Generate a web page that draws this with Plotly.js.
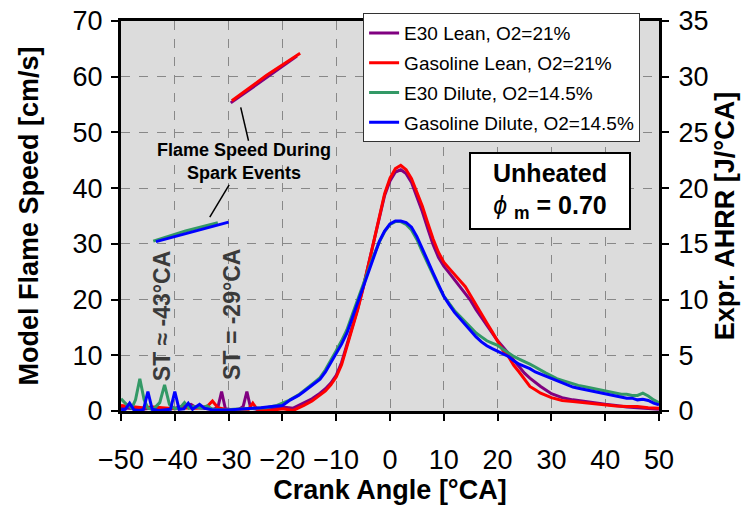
<!DOCTYPE html>
<html>
<head>
<meta charset="utf-8">
<script src="https://cdn.plot.ly/plotly-3.0.1.min.js"></script>
<style>html,body{margin:0;padding:0;background:#fff;}#chart{width:744px;height:509px;}</style>
</head>
<body>
<div id="chart"></div>
<script>
// ---- Series names ----
const nameEL = "E30 Lean, O2=21%";
const nameGL = "Gasoline Lean, O2=21%";
const nameED = "E30 Dilute, O2=14.5%";
const nameGD = "Gasoline Dilute, O2=14.5%";

// ---- Experimental AHRR [J/°CA] vs crank angle [°CA] (right axis) ----
const xGL = [-50,-48,-46,-44,-42,-40,-38,-36,-34,-33,-32,-30,-28,-26.3,-25.5,-24.7,-22,-20,-18,-17,-16,-14.5,-13,-12,-11,
  -10,-9,-8,-7,-6,-5,-4,-3,-2,-1,0,1,2,3,4,5,6,7,8,9,10,11,12,13,14,15,16,17,18,19,20,21,22,23,24,25,26,27,28,
  30,32,34,36,38,40,42,44,46,48,50];
const ahrrGL = [0.5,0.4,0.3,0.35,0.25,0.2,0.3,0.25,0.4,0.9,0.3,0.1,0.15,0.15,0.7,0.15,0.05,0.2,0.05,0.25,0.5,0.9,1.4,1.8,2.35,
  3.05,4.15,5.75,7.4,9.1,11,13.1,15.4,17.5,19.5,20.9,21.75,22.05,21.65,20.85,19.6,18.4,16.9,15.45,14.25,
  13.35,12.8,12.25,11.75,11.15,10.35,9.5,8.7,7.9,7.1,6.25,5.45,4.9,4.1,3.5,2.8,2.2,1.9,1.6,
  1.2,0.95,0.85,0.75,0.65,0.5,0.45,0.4,0.4,0.3,0.25];

const xEL = [-50,-48,-46,-44,-42,-40,-38,-37,-36,-34,-33,-32,-31.3,-30.6,-29,-28,-27.3,-26.6,-25.9,-24,-22,-20,-18,-17,-16,-14.5,-13,-12,-11,
  -10,-9,-8,-7,-6,-5,-4,-3,-2,-1,0,1,2,3,4,5,6,7,8,9,10,11,12,13,14,15,16,17,18,19,20,21,22,23,24,25,26,27,28,
  30,32,34,36,38,40,42,44,46,48,50];
const ahrrEL = [0.3,0.25,0.15,0.3,0.2,0.25,0.45,0.6,0.3,0.2,0.15,0.3,1.75,0.2,0.1,0.15,0.4,1.75,0.25,0.1,0.2,0.35,0.25,0.5,0.7,1.1,1.6,2.0,2.5,
  3.2,4.35,5.9,7.5,9.2,11.1,13.15,15.3,17.4,19.35,20.65,21.45,21.65,21.3,20.5,19.25,17.9,16.4,14.95,13.8,
  13.0,12.4,11.8,11.2,10.6,9.9,9.1,8.4,7.6,6.9,6.3,5.75,5.15,4.5,3.9,3.4,2.95,2.55,2.2,
  1.55,1.2,1.0,0.85,0.7,0.6,0.5,0.35,0.3,0.25,0.15];

const xGD = [-50,-49.2,-48.4,-47.6,-46.6,-45.8,-45,-44.2,-43,-40.8,-40,-39.2,-38.3,-37.5,-36.7,-35.4,-34.5,-33,-30,-28,-26,-24,-22,-20,-18.5,-17,-16,-15,-14,-13,-12,-11,
  -10,-9,-8,-7,-6,-5,-4,-3,-2,-1,0,1,2,3,4,5,6,7,8,9,10,11,12,13,14,15,16,17,18,19,20,21,22,23,24,25,26,27,28,29,
  30,31,32,33,34,35,36,37,38,39,40,41,42,43,44,45,46,47,48,49,50];
const ahrrGD = [0.1,0.15,0.7,0.1,0.05,0.15,1.75,0.15,0.05,0.15,1.75,0.15,0.2,0.7,0.15,0.6,0.25,0.1,0.1,0.15,0.25,0.3,0.4,0.5,1.0,1.4,1.75,2.1,2.5,2.85,3.5,4.3,
  5.15,6.0,7.0,8.4,9.8,11.15,12.55,14.0,15.2,16.15,16.8,17.05,17.05,16.9,16.5,15.65,14.5,13.5,12.4,11.3,
  10.3,9.55,8.85,8.3,7.75,7.15,6.65,6.2,5.85,5.6,5.35,5.1,4.9,4.5,4.2,4.0,3.8,3.5,3.3,3.1,
  2.9,2.7,2.5,2.35,2.15,2.05,1.95,1.85,1.75,1.7,1.55,1.45,1.4,1.3,1.15,1.15,1.0,1.05,0.95,0.7,0.55];

const xED = [-50,-49,-48,-47.3,-46.5,-45.7,-45,-44,-42.8,-41.9,-41,-40,-39,-38.2,-37.4,-36.5,-35,-34,-33,-31,-29,-27,-25,-23,-21,-19,-17,-16,-15,-14,-13,-12,-11,
  -10,-9,-8,-7,-6,-5,-4,-3,-2,-1,0,1,2,3,4,5,6,7,8,9,10,11,12,13,14,15,16,17,18,19,20,21,22,23,24,25,26,27,28,29,
  30,31,32,33,34,35,36,37,38,39,40,41,42,43,44,45,46,47,48,49,50];
const ahrrED = [1.1,0.6,0.25,1.0,2.9,1.0,0.25,0.15,0.75,2.35,0.6,0.2,0.3,0.75,0.25,0.4,0.25,0.45,0.15,0.1,0.15,0.2,0.25,0.3,0.5,0.9,1.45,1.8,2.2,2.6,3.0,3.7,4.5,
  5.4,6.3,7.3,8.65,10.0,11.3,12.65,14.0,15.15,16.1,16.75,17.0,17.0,16.75,16.25,15.4,14.3,13.25,12.2,11.2,
  10.3,9.65,9.0,8.5,8.0,7.45,7.0,6.65,6.3,6.1,5.9,5.55,5.2,4.9,4.65,4.45,4.2,3.95,3.65,3.4,
  3.15,2.9,2.75,2.6,2.4,2.3,2.2,2.1,2.0,1.9,1.8,1.7,1.65,1.5,1.5,1.4,1.4,1.6,1.35,1.0,0.75];

// ---- Model flame speed during spark events [cm/s] (left axis) ----
const fsxEL = [-29.6,-23,-17.3], fsEL = [55.3,59.8,63.7];
const fsxGL = [-29.4,-23,-16.7], fsGL = [55.7,60.2,64.2];
const fsxED = [-44,-38,-32],     fsED = [30.5,32.3,33.8];
const fsxGD = [-43.5,-37,-30],   fsGD = [30.4,32.1,33.9];

const cEL = "#800080", cGL = "#FF0000", cED = "#339966", cGD = "#0000FF";
const FONT = "Liberation Sans, Arial, sans-serif";

function ahrr(x, y, name, color, grp) {
  return {x: x, y: y, name: name, type: "scatter", mode: "lines", yaxis: "y2",
    line: {color: color, width: 3}, legendgroup: grp, showlegend: true};
}
function fs(x, y, color) {
  return {x: x, y: y, type: "scatter", mode: "lines", yaxis: "y",
    line: {color: color, width: 3}, showlegend: false, hoverinfo: "skip"};
}

const traces = [
  fs(fsxEL, fsEL, cEL), fs(fsxGL, fsGL, cGL), fs(fsxED, fsED, cED), fs(fsxGD, fsGD, cGD),
  ahrr(xEL, ahrrEL, nameEL, cEL, "a"),
  ahrr(xGL, ahrrGL, nameGL, cGL, "b"),
  ahrr(xED, ahrrED, nameED, cED, "c"),
  ahrr(xGD, ahrrGD, nameGD, cGD, "d")
];

const layout = {
  width: 744, height: 509,
  margin: {l: 121, r: 85, t: 21, b: 98},
  paper_bgcolor: "#ffffff",
  plot_bgcolor: "#DCDCDC",
  font: {family: FONT, color: "#000"},
  showlegend: true,
  legend: {x: 0.45, y: 1.02, xanchor: "left", yanchor: "top",
    bgcolor: "#ffffff", bordercolor: "#333", borderwidth: 1,
    font: {family: FONT, size: 19, color: "#000"},
    traceorder: "grouped", tracegroupgap: 2},
  xaxis: {range: [-50, 50], dtick: 10, tick0: 0,
    showgrid: true, gridcolor: "#888888", griddash: "dash", gridwidth: 1,
    zeroline: false, showline: true, linecolor: "#000", linewidth: 3, mirror: true,
    ticks: "outside", ticklen: 7, tickwidth: 2, tickcolor: "#000",
    ticklabelstandoff: 16,
    tickfont: {family: FONT, size: 27, color: "#000"},
    title: {text: "<b>Crank Angle [°CA]</b>", font: {family: FONT, size: 27, color: "#000"}, standoff: 6}},
  yaxis: {range: [0, 70], dtick: 10,
    showgrid: true, gridcolor: "#888888", griddash: "dash", gridwidth: 1,
    zeroline: false, showline: true, linecolor: "#000", linewidth: 3,
    ticks: "outside", ticklen: 7, tickwidth: 2, tickcolor: "#000",
    ticklabelstandoff: 3,
    tickfont: {family: FONT, size: 27, color: "#000"},
    title: {text: "<b>Model Flame Speed [cm/s]</b>", font: {family: FONT, size: 27, color: "#000"}, standoff: 27}},
  yaxis2: {range: [0, 35], dtick: 5, overlaying: "y", side: "right",
    showgrid: false, zeroline: false, showline: true, linecolor: "#000", linewidth: 3,
    ticks: "outside", ticklen: 7, tickwidth: 2, tickcolor: "#000",
    ticklabelstandoff: 4,
    tickfont: {family: FONT, size: 27, color: "#000"},
    title: {text: "<b>Expr. AHRR [J/°CA]</b>", font: {family: FONT, size: 27, color: "#000"}, standoff: 8}},
  shapes: [
    {type: "line", xref: "x", yref: "y", x0: -27.75, y0: 54.5, x1: -26.3, y1: 48.5, line: {color: "#000", width: 1.5}},
    {type: "line", xref: "x", yref: "y", x0: -29.9, y0: 40.6, x1: -33.5, y1: 34.8, line: {color: "#000", width: 1.5}}
  ],
  annotations: [
    {xref: "x", yref: "y", x: -27.2, y: 44.7, text: "<b>Flame Speed During<br>Spark Events</b>",
     showarrow: false, font: {family: FONT, size: 18, color: "#000"}, align: "center"},
    {xref: "x", yref: "y", x: -42.4, y: 17, text: "<b>ST ≈ -43°CA</b>", textangle: -90,
     showarrow: false, font: {family: FONT, size: 23, color: "#3a3a3a"}},
    {xref: "x", yref: "y", x: -29.4, y: 17.4, text: "<b>ST = -29°CA</b>", textangle: -90,
     showarrow: false, font: {family: FONT, size: 23, color: "#3a3a3a"}},
    {xref: "x", yref: "y", x: 29.7, y: 39.4,
     text: "<b>Unheated</b><br><i>ϕ</i> <sub><b>m</b></sub><b> = 0.70</b>",
     showarrow: false, font: {family: FONT, size: 25, color: "#000"}, align: "center",
     bgcolor: "#ffffff", bordercolor: "#000", borderwidth: 2, borderpad: 2, width: 154, height: 70}
  ]
};

Plotly.newPlot("chart", traces, layout, {staticPlot: true, displayModeBar: false});
</script>
</body>
</html>
